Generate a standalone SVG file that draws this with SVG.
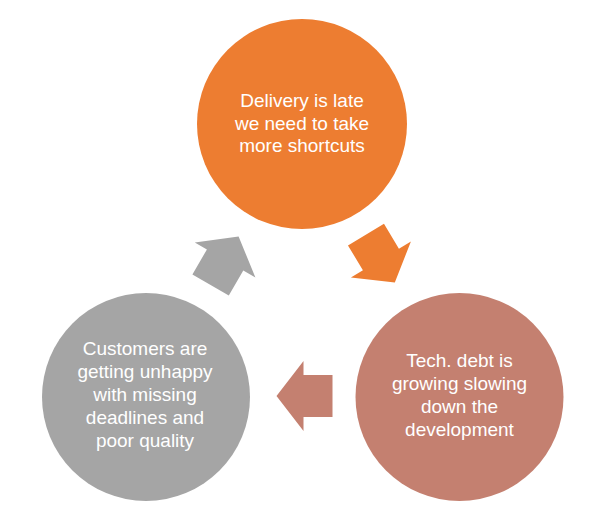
<svg xmlns="http://www.w3.org/2000/svg" width="614" height="530" viewBox="0 0 614 530">
<style>
.lbl{font-family:"Liberation Sans",Arial,sans-serif;font-size:19px;fill:#FFFFFF;text-anchor:middle}
</style>
<defs>
<polygon id="arrow" points="-28,-21 1,-21 1,-35 28,0 1,35 1,21 -28,21"/>
</defs>
<rect width="614" height="530" fill="#FFFFFF"/>
<g id="connectors">
<use href="#arrow" fill="#ED7D31" transform="translate(380.4,258.6) rotate(59)"/>
<use href="#arrow" fill="#C48070" transform="translate(304.5,396) rotate(180)"/>
<use href="#arrow" fill="#A5A5A5" transform="translate(224.6,260.8) rotate(-60)"/>
</g>
<g id="node-delivery">
<circle cx="302" cy="124" r="105" fill="#ED7D31"/>
<text class="lbl" x="302" y="107">Delivery is late</text>
<text class="lbl" x="302" y="129.5">we need to take</text>
<text class="lbl" x="302" y="152">more shortcuts</text>
</g>
<g id="node-techdebt">
<circle cx="459.5" cy="397" r="104" fill="#C48070"/>
<text class="lbl" x="459.5" y="367">Tech. debt is</text>
<text class="lbl" x="459.5" y="390">growing slowing</text>
<text class="lbl" x="459.5" y="413">down the</text>
<text class="lbl" x="459.5" y="436">development</text>
</g>
<g id="node-customers">
<circle cx="146" cy="397" r="104" fill="#A5A5A5"/>
<text class="lbl" x="145" y="355">Customers are</text>
<text class="lbl" x="145" y="378">getting unhappy</text>
<text class="lbl" x="145" y="401">with missing</text>
<text class="lbl" x="145" y="424">deadlines and</text>
<text class="lbl" x="145" y="447">poor quality</text>
</g>
</svg>
